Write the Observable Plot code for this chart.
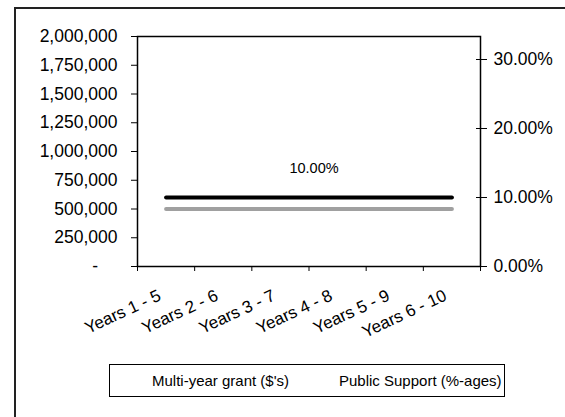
<!DOCTYPE html>
<html>
<head>
<meta charset="utf-8">
<script src="https://cdn.jsdelivr.net/npm/d3@7"></script>
<script src="https://cdn.jsdelivr.net/npm/@observablehq/plot@0.6"></script>
<style>
  html, body { margin: 0; padding: 0; background: #fff; }
  #wrap { position: relative; width: 565px; height: 417px; overflow: hidden; font-family: "Liberation Sans", Arial, sans-serif; }
  #outer { position: absolute; left: 14px; top: 7px; right: -10px; bottom: -10px; border-left: 2px solid #222; border-top: 2px solid #222; }
  #legend { position: absolute; left: 109px; top: 364px; width: 396px; height: 33px; border: 1px solid #000; box-sizing: border-box; font-size: 15px; color: #000; }
  #legend span { position: absolute; top: 7px; white-space: nowrap; }
</style>
</head>
<body>
<div id="wrap">
  <div id="outer"></div>
  <div id="chart"></div>
  <div id="legend"></div>
</div>
<script>
// ---- data ----
const categories = ["Years 1 - 5", "Years 2 - 6", "Years 3 - 7", "Years 4 - 8", "Years 5 - 9", "Years 6 - 10"];
const grant = [500000, 500000, 500000, 500000, 500000, 500000];          // Multi-year grant ($'s), left axis
const support = [0.10, 0.10, 0.10, 0.10, 0.10, 0.10];                    // Public Support (%-ages), right axis
const leftTicks = [0, 250000, 500000, 750000, 1000000, 1250000, 1500000, 1750000, 2000000];
const rightTicks = [0, 0.10, 0.20, 0.30];
const leftMax = 2000000;
const rightMax = 1 / 3;
const seriesNames = ["Multi-year grant ($'s)", "Public Support (%-ages)"];
const dataLabel = d3.format(".2%")(support[2]);

const FACTOR = leftMax / rightMax; // maps right-axis fraction into left-axis units
const xi = (d, i) => i + 0.5;

const chart = Plot.plot({
  width: 565,
  height: 417,
  marginLeft: 137,
  marginRight: 85,
  marginTop: 36,
  marginBottom: 151,
  style: { fontFamily: "Liberation Sans, Arial, sans-serif", background: "transparent", overflow: "visible", color: "#000" },
  x: { domain: [0, categories.length], axis: null },
  y: { domain: [0, leftMax], axis: null },
  marks: [
    Plot.frame({ stroke: "#000", strokeWidth: 1.5 }),
    // left axis
    Plot.axisY(leftTicks, {
      anchor: "left", tickSize: 6, tickPadding: 14, fontSize: 17.5,
      tickFormat: d => d === 0 ? "-\u00a0\u00a0\u00a0\u00a0" : d3.format(",")(d)
    }),
    // right axis ticks (crossing)
    Plot.axisY(rightTicks.map(t => t * FACTOR), { anchor: "right", tickSize: 11, dx: -5, fill: "none" }),
    // right axis labels
    Plot.axisY(rightTicks.map(t => t * FACTOR), {
      anchor: "right", tickSize: 0, tickPadding: 13, fontSize: 17.5,
      tickFormat: d => d3.format(".2%")(d / FACTOR)
    }),
    // bottom ticks at category boundaries
    Plot.axisX(d3.range(categories.length + 1), { anchor: "bottom", tickSize: 5, fill: "none" }),
    // category labels
    Plot.text(categories, {
      x: xi, frameAnchor: "bottom", text: d => d, rotate: -25, textAnchor: "end",
      dx: -4, dy: 33, fontSize: 17, fill: "#000"
    }),
    // series
    Plot.lineY(grant, { x: xi, y: d => d, stroke: "#a0a0a0", strokeWidth: 4, strokeLinecap: "round" }),
    Plot.lineY(support, { x: xi, y: d => d * FACTOR, stroke: "#000", strokeWidth: 4, strokeLinecap: "round" }),
    // data label
    Plot.text([dataLabel], {
      x: categories.length / 2, y: support[2] * FACTOR, text: d => d,
      dy: -29, dx: 5, fontSize: 14.5, fill: "#000"
    })
  ]
});
document.getElementById("chart").appendChild(chart);

const legend = document.getElementById("legend");
const s1 = document.createElement("span"); s1.textContent = seriesNames[0]; s1.style.left = "42px";
const s2 = document.createElement("span"); s2.textContent = seriesNames[1]; s2.style.left = "229px";
legend.appendChild(s1); legend.appendChild(s2);
</script>
</body>
</html>
